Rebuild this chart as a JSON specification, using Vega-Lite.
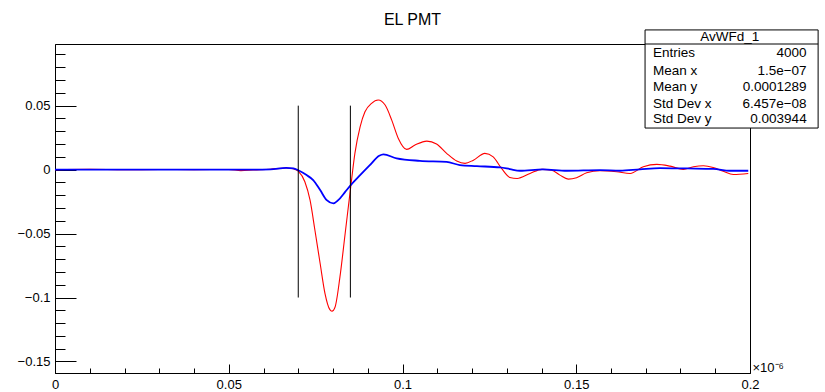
{
  "$schema": "https://vega.github.io/schema/vega-lite/v6.json",
  "width": 695,
  "height": 329,
  "autosize": {"type": "none"},
  "padding": {"left": 55, "top": 44, "right": 75, "bottom": 19},
  "background": "white",
  "config": {
    "font": "Liberation Sans",
    "view": {"stroke": "black", "strokeWidth": 1},
    "axis": {
      "domainColor": "black",
      "domainWidth": 1,
      "tickColor": "black",
      "tickWidth": 1,
      "labelColor": "black",
      "labelFont": "Liberation Sans",
      "labelFontSize": 13,
      "grid": false
    }
  },
  "title": {
    "text": "EL PMT",
    "font": "Liberation Sans",
    "fontSize": 16,
    "fontWeight": "normal",
    "color": "black",
    "anchor": "middle",
    "frame": "group",
    "dx": 10,
    "dy": 19,
    "offset": 7,
    "baseline": "alphabetic"
  },
  "datasets": {
    "red": [
      {"t": 0, "v": 0}, {"t": 0.01, "v": 0.0002}, {"t": 0.02, "v": -0.0001}, {"t": 0.03, "v": 0.0001},
      {"t": 0.04, "v": 0}, {"t": 0.05, "v": 0.0001}, {"t": 0.0535, "v": -0.0008}, {"t": 0.057, "v": -0.0003},
      {"t": 0.062, "v": 0.0003}, {"t": 0.0665, "v": 0.0013}, {"t": 0.0685, "v": 0.0008}, {"t": 0.07, "v": -0.0012},
      {"t": 0.0719, "v": -0.0095}, {"t": 0.0734, "v": -0.0239}, {"t": 0.0748, "v": -0.0474}, {"t": 0.0763, "v": -0.0734},
      {"t": 0.0777, "v": -0.0969}, {"t": 0.0791, "v": -0.1095}, {"t": 0.0797, "v": -0.1107}, {"t": 0.0806, "v": -0.1074},
      {"t": 0.082, "v": -0.0839}, {"t": 0.0835, "v": -0.0499}, {"t": 0.0851, "v": -0.0135}, {"t": 0.0863, "v": 0.0127},
      {"t": 0.0878, "v": 0.0335}, {"t": 0.0892, "v": 0.0452}, {"t": 0.0911, "v": 0.0518}, {"t": 0.093, "v": 0.0544},
      {"t": 0.095, "v": 0.0505}, {"t": 0.0969, "v": 0.0387}, {"t": 0.0988, "v": 0.0244}, {"t": 0.1012, "v": 0.0158},
      {"t": 0.1036, "v": 0.0192}, {"t": 0.107, "v": 0.0223}, {"t": 0.1098, "v": 0.02}, {"t": 0.1127, "v": 0.0127},
      {"t": 0.1156, "v": 0.0067}, {"t": 0.118, "v": 0.0049}, {"t": 0.1204, "v": 0.0074}, {"t": 0.1237, "v": 0.0127},
      {"t": 0.1261, "v": 0.01}, {"t": 0.1285, "v": 0.0009}, {"t": 0.1309, "v": -0.0061}, {"t": 0.133, "v": -0.0069},
      {"t": 0.1367, "v": -0.003}, {"t": 0.1401, "v": 0.0002}, {"t": 0.1429, "v": -0.0004}, {"t": 0.1453, "v": -0.0043},
      {"t": 0.1477, "v": -0.0074}, {"t": 0.1501, "v": -0.0063}, {"t": 0.153, "v": -0.0025}, {"t": 0.1568, "v": -0.0009},
      {"t": 0.1616, "v": -0.0017}, {"t": 0.1655, "v": -0.003}, {"t": 0.1693, "v": 0.0022}, {"t": 0.1732, "v": 0.0041},
      {"t": 0.177, "v": 0.0027}, {"t": 0.1808, "v": 0.0002}, {"t": 0.1837, "v": 0.0022}, {"t": 0.1866, "v": 0.003},
      {"t": 0.1894, "v": 0.0017}, {"t": 0.1923, "v": -0.0012}, {"t": 0.1952, "v": -0.0038}, {"t": 0.1995, "v": -0.003}
    ],
    "blue": [
      {"t": 0, "v": 0}, {"t": 0.02, "v": 0}, {"t": 0.04, "v": 0}, {"t": 0.055, "v": 0},
      {"t": 0.062, "v": 0.0002}, {"t": 0.0665, "v": 0.0014}, {"t": 0.0686, "v": 0.001}, {"t": 0.07, "v": -0.0005},
      {"t": 0.0724, "v": -0.0043}, {"t": 0.0743, "v": -0.0082}, {"t": 0.0763, "v": -0.016}, {"t": 0.0782, "v": -0.0239},
      {"t": 0.0801, "v": -0.0264}, {"t": 0.0815, "v": -0.0239}, {"t": 0.0835, "v": -0.0174}, {"t": 0.0851, "v": -0.0121},
      {"t": 0.0878, "v": -0.0043}, {"t": 0.0906, "v": 0.0035}, {"t": 0.0933, "v": 0.0108}, {"t": 0.0945, "v": 0.0119},
      {"t": 0.0983, "v": 0.0088}, {"t": 0.105, "v": 0.0069}, {"t": 0.1127, "v": 0.0061}, {"t": 0.1165, "v": 0.0035},
      {"t": 0.1214, "v": 0.0027}, {"t": 0.1281, "v": 0.0017}, {"t": 0.1309, "v": 0.0004}, {"t": 0.1338, "v": -0.0009},
      {"t": 0.1404, "v": 0.0002}, {"t": 0.1473, "v": -0.0009}, {"t": 0.1568, "v": -0.0004}, {"t": 0.1626, "v": -0.0009},
      {"t": 0.1683, "v": 0.0002}, {"t": 0.1741, "v": 0.0012}, {"t": 0.1818, "v": 0.0009}, {"t": 0.1894, "v": 0.0006},
      {"t": 0.1942, "v": -0.0009}, {"t": 0.1995, "v": -0.0009}
    ],
    "cuts": [
      {"t": 0.07, "lo": -0.1, "hi": 0.05},
      {"t": 0.085, "lo": -0.1, "hi": 0.05}
    ],
    "stats": [
      {"name": "Entries", "val": "4000"},
      {"name": "Mean x", "val": "1.5e−07"},
      {"name": "Mean y", "val": "0.0001289"},
      {"name": "Std Dev x", "val": "6.457e−08"},
      {"name": "Std Dev y", "val": "0.003944"}
    ],
    "box": [
      {"title": "AvWFd_1", "x1": 0.1698, "x2": 0.2196, "y1": 0.1092, "y2": 0.0325, "sep": 0.0982}
    ]
  },
  "layer": [
    {
      "data": {"name": "red"},
      "mark": {"type": "line", "color": "#ff0000", "strokeWidth": 1.1, "interpolate": "monotone"},
      "encoding": {
        "x": {
          "field": "t", "type": "quantitative",
          "scale": {"domain": [0, 0.2], "nice": false, "zero": false},
          "axis": {
            "values": [0, 0.01, 0.02, 0.03, 0.04, 0.05, 0.06, 0.07, 0.08, 0.09, 0.1, 0.11, 0.12, 0.13, 0.14, 0.15, 0.16, 0.17, 0.18, 0.19, 0.2],
            "tickCount": 200,
            "labelExpr": "abs(datum.value*20-round(datum.value*20))<0.001 ? format(datum.value,'~g') : ''",
            "tickSize": {"condition": {"test": "abs(datum.value*20-round(datum.value*20))<0.001", "value": -9}, "value": -5},
            "labelPadding": 14,
            "labelFlush": false,
            "labelOverlap": false,
            "title": "×10⁻⁶",
            "titleX": 697,
            "titleY": -2,
            "titleAlign": "left",
            "titleAnchor": null,
            "titleBaseline": "alphabetic",
            "titleFontSize": 13,
            "titleFontWeight": "normal",
            "titleColor": "black",
            "titleFont": "Liberation Sans"
          }
        },
        "y": {
          "field": "v", "type": "quantitative",
          "scale": {"domain": [-0.159, 0.0982], "nice": false, "zero": false},
          "axis": {
            "values": [-0.15, -0.14, -0.13, -0.12, -0.11, -0.1, -0.09, -0.08, -0.07, -0.06, -0.05, -0.04, -0.03, -0.02, -0.01, 0, 0.01, 0.02, 0.03, 0.04, 0.05, 0.06, 0.07, 0.08, 0.09],
            "tickCount": 200,
            "labelExpr": "abs(datum.value*20-round(datum.value*20))<0.001 ? format(datum.value,'~g') : ''",
            "tickSize": {"condition": {"test": "abs(datum.value*20-round(datum.value*20))<0.001", "value": -21}, "value": -10},
            "labelPadding": 26,
            "labelFlush": false,
            "labelOverlap": false,
            "title": null
          }
        }
      }
    },
    {
      "data": {"name": "blue"},
      "mark": {"type": "line", "color": "#0000ff", "strokeWidth": 1.8, "interpolate": "monotone"},
      "encoding": {
        "x": {"field": "t", "type": "quantitative"},
        "y": {"field": "v", "type": "quantitative"}
      }
    },
    {
      "data": {"name": "cuts"},
      "mark": {"type": "rule", "color": "black", "strokeWidth": 1},
      "encoding": {
        "x": {"field": "t", "type": "quantitative"},
        "y": {"field": "lo", "type": "quantitative"},
        "y2": {"field": "hi"}
      }
    },
    {
      "data": {"name": "box"},
      "layer": [
        {
          "mark": {"type": "rect", "fill": "white", "stroke": "black", "strokeWidth": 1},
          "encoding": {
            "x": {"field": "x1", "type": "quantitative"},
            "x2": {"field": "x2"},
            "y": {"field": "y1", "type": "quantitative"},
            "y2": {"field": "y2"}
          }
        },
        {
          "mark": {"type": "rule", "color": "black", "strokeWidth": 1},
          "encoding": {
            "x": {"field": "x1", "type": "quantitative"},
            "x2": {"field": "x2"},
            "y": {"field": "sep", "type": "quantitative"}
          }
        },
        {
          "mark": {"type": "text", "align": "center", "baseline": "middle", "fontSize": 13.5, "color": "black"},
          "encoding": {
            "x": {"datum": 0.1942, "type": "quantitative"},
            "y": {"datum": 0.104, "type": "quantitative"},
            "text": {"field": "title"}
          }
        }
      ]
    },
    {
      "data": {"name": "stats"},
      "transform": [{"filter": "datum.name == 'Entries'"}],
      "layer": [
        {"mark": {"type": "text", "align": "left", "baseline": "middle", "fontSize": 13.5, "color": "black"},
         "encoding": {"x": {"datum": 0.1721, "type": "quantitative"}, "y": {"datum": 0.0909, "type": "quantitative"}, "text": {"field": "name"}}},
        {"mark": {"type": "text", "align": "right", "baseline": "middle", "fontSize": 13.5, "color": "black"},
         "encoding": {"x": {"datum": 0.2163, "type": "quantitative"}, "y": {"datum": 0.0909, "type": "quantitative"}, "text": {"field": "val"}}}
      ]
    },
    {
      "data": {"name": "stats"},
      "transform": [{"filter": "datum.name == 'Mean x'"}],
      "layer": [
        {"mark": {"type": "text", "align": "left", "baseline": "middle", "fontSize": 13.5, "color": "black"},
         "encoding": {"x": {"datum": 0.1721, "type": "quantitative"}, "y": {"datum": 0.0773, "type": "quantitative"}, "text": {"field": "name"}}},
        {"mark": {"type": "text", "align": "right", "baseline": "middle", "fontSize": 13.5, "color": "black"},
         "encoding": {"x": {"datum": 0.2163, "type": "quantitative"}, "y": {"datum": 0.0773, "type": "quantitative"}, "text": {"field": "val"}}}
      ]
    },
    {
      "data": {"name": "stats"},
      "transform": [{"filter": "datum.name == 'Mean y'"}],
      "layer": [
        {"mark": {"type": "text", "align": "left", "baseline": "middle", "fontSize": 13.5, "color": "black"},
         "encoding": {"x": {"datum": 0.1721, "type": "quantitative"}, "y": {"datum": 0.0646, "type": "quantitative"}, "text": {"field": "name"}}},
        {"mark": {"type": "text", "align": "right", "baseline": "middle", "fontSize": 13.5, "color": "black"},
         "encoding": {"x": {"datum": 0.2163, "type": "quantitative"}, "y": {"datum": 0.0646, "type": "quantitative"}, "text": {"field": "val"}}}
      ]
    },
    {
      "data": {"name": "stats"},
      "transform": [{"filter": "datum.name == 'Std Dev x'"}],
      "layer": [
        {"mark": {"type": "text", "align": "left", "baseline": "middle", "fontSize": 13.5, "color": "black"},
         "encoding": {"x": {"datum": 0.1721, "type": "quantitative"}, "y": {"datum": 0.0515, "type": "quantitative"}, "text": {"field": "name"}}},
        {"mark": {"type": "text", "align": "right", "baseline": "middle", "fontSize": 13.5, "color": "black"},
         "encoding": {"x": {"datum": 0.2163, "type": "quantitative"}, "y": {"datum": 0.0515, "type": "quantitative"}, "text": {"field": "val"}}}
      ]
    },
    {
      "data": {"name": "stats"},
      "transform": [{"filter": "datum.name == 'Std Dev y'"}],
      "layer": [
        {"mark": {"type": "text", "align": "left", "baseline": "middle", "fontSize": 13.5, "color": "black"},
         "encoding": {"x": {"datum": 0.1721, "type": "quantitative"}, "y": {"datum": 0.0393, "type": "quantitative"}, "text": {"field": "name"}}},
        {"mark": {"type": "text", "align": "right", "baseline": "middle", "fontSize": 13.5, "color": "black"},
         "encoding": {"x": {"datum": 0.2163, "type": "quantitative"}, "y": {"datum": 0.0393, "type": "quantitative"}, "text": {"field": "val"}}}
      ]
    }
  ]
}
